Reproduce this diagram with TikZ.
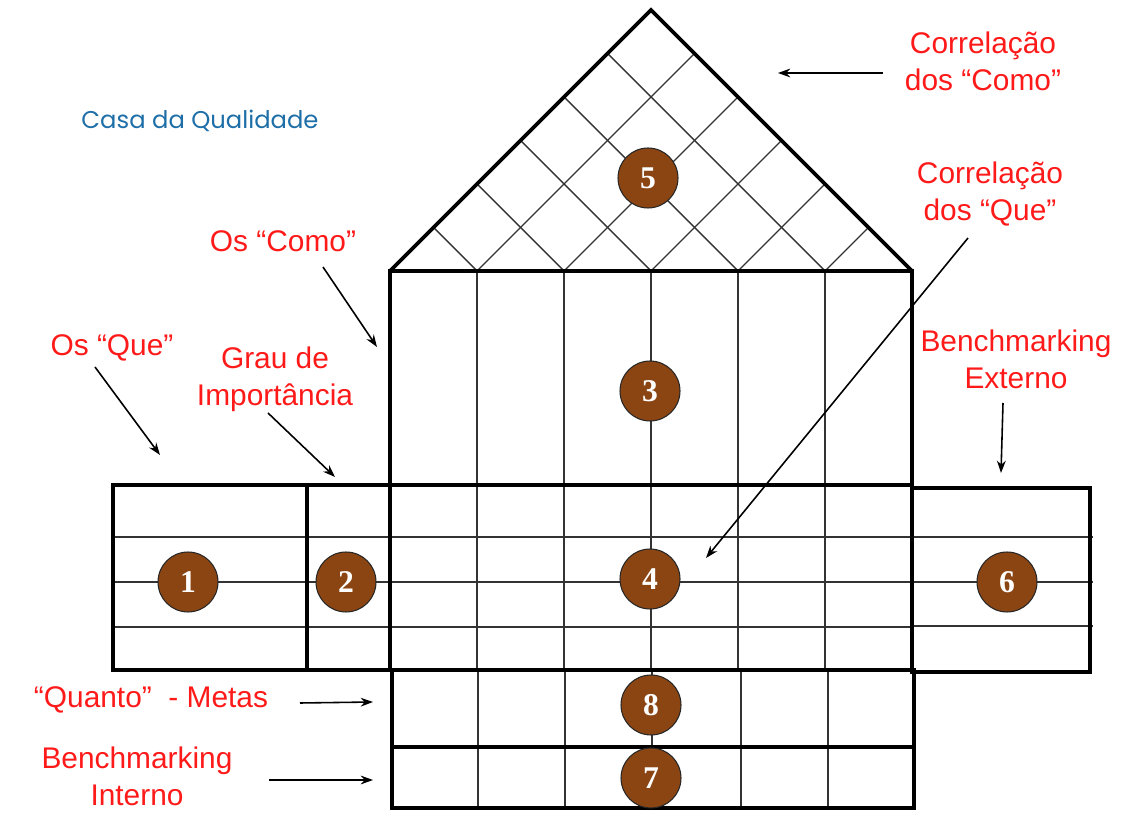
\documentclass[tikz,border=0pt]{standalone}
\usepackage{fontspec}
\setmainfont{Liberation Sans}
\newfontfamily\numfont{Liberation Serif}
\newfontfamily\titlefont{Poppins}
\usepackage{tikz}
\usetikzlibrary{arrows.meta, positioning}
\definecolor{QFD_Red}{HTML}{FF1A1A}
\definecolor{QFD_Blue}{HTML}{1E6EA8}
\definecolor{QFD_Brown}{HTML}{8B4513}

\begin{document}
\begin{tikzpicture}[x=0.02cm, y=-0.02cm,
  lbl/.style={text=QFD_Red, font=\fontsize{17}{21}\selectfont, align=center, inner sep=0pt},
  num/.style={circle, fill=QFD_Brown, draw=black!85, line width=0.6pt, minimum size=1.2cm, inner sep=0pt, text=white, font=\numfont\bfseries\fontsize{18}{18}\selectfont},
  outer/.style={line width=2.2pt, line join=miter},
  cell/.style={line width=1.1pt, draw=black!80},
  roofgrid/.style={line width=0.8pt, draw=black!80},
  arr/.style={-{Stealth[length=7pt, width=5pt]}, line width=0.9pt}]
\useasboundingbox (0,0) rectangle (1123,820);

% --- roof ---
\foreach \i in {1,...,5} {
  \pgfmathsetmacro\xb{390+87*\i}
  \draw[roofgrid] (\xb,271) -- ++(-43.5*\i,-43.5*\i);
  \draw[roofgrid] (\xb,271) -- ++(43.5*6-43.5*\i,-43.5*6+43.5*\i);
}
\draw[outer] (390,271) -- (651,10) -- (912,271);

% --- body (the "como" columns) ---
\foreach \x in {477,564,651,738,825}
  \draw[cell] (\x,271) -- (\x,670);

% --- matrix rows ---
\foreach \y in {537,582,627}
  \draw[cell] (113,\y) -- (912,\y);
\draw[outer] (113,485) rectangle (912,670);
\draw[outer] (307,485) -- (307,670);
\draw[outer] (390,271) rectangle (912,670);

% --- benchmarking externo ---
\foreach \y in {537,582,626}
  \draw[cell] (912,\y) -- (1093,\y);
\draw[line width=1.8pt] (912,488) rectangle (1090,672);

% --- metas / benchmarking interno ---
\foreach \x in {478,565,652,741,828}
  \draw[cell] (\x,670) -- (\x,808);
\draw[line width=1.8pt] (392,670) rectangle (914,808);
\draw[line width=1.8pt] (392,747) -- (914,747);

% --- numbered circles ---
\node[num] (n1) at (188,582) {1};
\node[num] (n2) at (346,582) {2};
\node[num] (n3) at (650,391) {3};
\node[num] (n4) at (650,579) {4};
\node[num] (n5) at (648,178) {5};
\node[num] (n6) at (1007,582) {6};
\node[num] (n8) at (651,705) {8};
\node[num] (n7) at (651,778) {7};

% --- labels ---
\node[text=QFD_Blue, font=\titlefont\fontsize{13.8}{16}\selectfont] (titulo) at (200,121) {Casa da Qualidade};
\node[lbl] (corrcomo) at (983,61) {Correlação\\dos “Como”};
\node[lbl] (corrque) at (990,194) {Correlação\\dos “Que”};
\node[lbl] (como) at (283,241) {Os “Como”};
\node[lbl] (que) at (112,348) {Os “Que”};
\node[lbl] (grau) at (275,379) {Grau de\\Importância};
\node[lbl] (bext) at (1016,359) {Benchmarking\\Externo};
\node[lbl] (metas) at (151,700) {“Quanto”~ - Metas};
\node[lbl] (bint) at (137,776) {Benchmarking\\Interno};

% --- arrows ---
\coordinate (corrcomo-a) at (883,73);  \coordinate (corrcomo-b) at (778,73);
\coordinate (corrque-a) at (968,238);  \coordinate (corrque-b) at (706,558);
\coordinate (como-a) at (323,267);     \coordinate (como-b) at (377,347);
\coordinate (que-a) at (95,367);       \coordinate (que-b) at (160,455);
\coordinate (grau-a) at (268,413);     \coordinate (grau-b) at (335,477);
\coordinate (bext-a) at (1003,403);    \coordinate (bext-b) at (1001,473);
\coordinate (metas-a) at (300,703);    \coordinate (metas-b) at (373,702);
\coordinate (bint-a) at (269,780);     \coordinate (bint-b) at (373,780);
\foreach \a in {corrcomo,corrque,como,que,grau,bext,metas,bint}
  \draw[arr] (\a-a) -- (\a-b);
\end{tikzpicture}
\end{document}
